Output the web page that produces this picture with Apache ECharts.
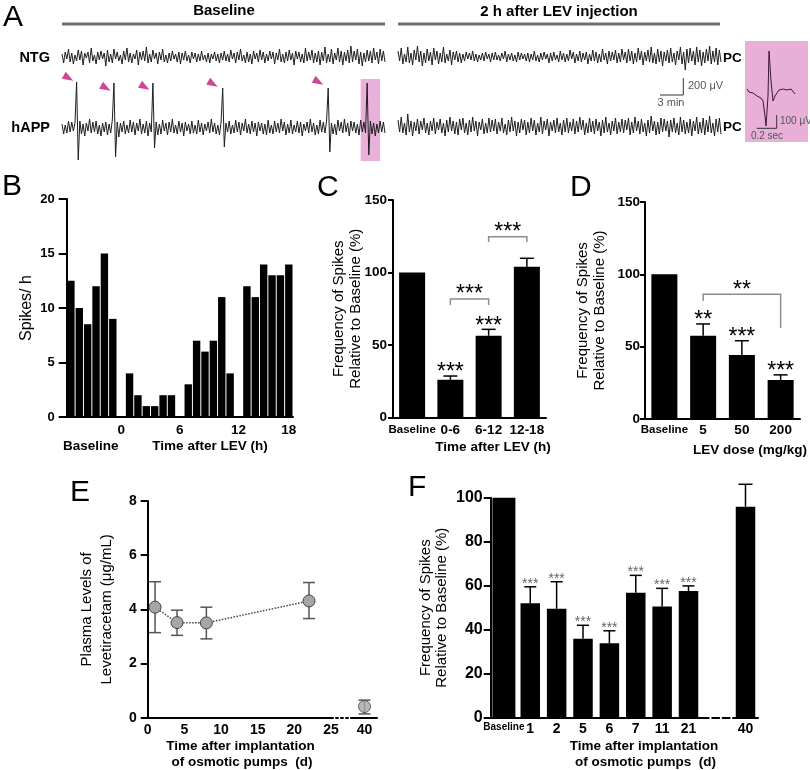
<!DOCTYPE html>
<html><head><meta charset="utf-8">
<script src="https://cdn.jsdelivr.net/npm/echarts@6/dist/echarts.min.js"></script>
<style>html,body{margin:0;padding:0;background:#fff}#c{width:810px;height:770px}</style>
</head><body><div id="c"></div>
<script>
// ---------- Panel A : EEG traces (amplitudes) ----------
const ntgBaselineTrace = [
 3,-6,5,-2,8,-5,4,-7,2,-4,7,-3,6,-8,4,-1,5,-6,9,-4,
 2,-7,5,-3,6,-2,4,-9,7,-5,3,-6,8,-2,5,-4,2,-7,6,-3,
 9,-5,4,-6,3,-2,7,-8,5,-3,6,-4,10,-6,3,-5,7,-2,4,-7,
 5,-3,8,-5,2,-6,4,-4,6,-2,3,-5,5,-7,4,-3,6,-4,2,-6,
 5,-2,4,-5,3,-4,6,-3,2,-5,4,-6,3,-2,5,-4,3,-6,4,-3,
 6,-4,3,-5,7,-2,4,-6,5,-3,8,-4,2,-6,5,-5,3,-7,6,-2,
 4,-5,7,-3,5,-6,3,-4,6,-2,5,-7,4,-3,8,-5,3,-6,5,-4,
 7,-3,4,-8,6,-2,5,-5,3,-6,9,-4,5,-3,7,-6,4,-5,6,-8,
 5,-4,10,-6,3,-5,8,-7,4,-3,9,-5,6,-8,5,-4,7,-6,11,-5,
 6,-3,8,-7,5,-9,4,-5,7,-4,6,-6,9,-3,5,-7,8,-4,6,-5];
const ntgPostTrace = [
 6,-4,9,-7,3,-5,10,-6,4,-8,7,-3,11,-5,6,-9,4,-6,8,-4,
 5,-8,9,-3,6,-7,4,-5,10,-6,3,-4,7,-8,5,-3,6,-5,4,-6,
 3,-4,5,-2,4,-3,6,-4,3,-5,2,-3,4,-4,5,-2,3,-5,4,-3,
 5,-3,2,-4,4,-2,6,-5,3,-3,4,-4,2,-5,5,-3,4,-2,3,-4,
 4,-5,3,-3,6,-4,2,-5,4,-3,5,-2,3,-6,4,-4,5,-3,2,-5,
 6,-3,4,-5,3,-4,7,-2,5,-6,3,-4,6,-5,4,-3,5,-7,3,-4,
 7,-4,5,-6,3,-5,8,-3,4,-7,6,-4,5,-3,7,-6,4,-5,8,-3,
 5,-6,8,-4,6,-7,4,-5,9,-3,6,-8,5,-4,7,-5,10,-6,4,-7,
 8,-5,6,-9,5,-4,7,-6,9,-5,4,-8,6,-3,10,-7,5,-13,8,-6,
 9,-4,6,-8,10,-5,7,-9,5,-6,8,-4,11,-7,6,-5,9,-8,7,-5];
const happBaselineTrace = [
 4,-6,3,-5,7,-4,6,-3,5,46,-32,7,-6,4,-8,5,-3,9,-5,6,
 -4,7,-6,3,-8,5,-4,6,-7,4,-5,8,45,-29,6,-9,5,-4,7,-6,
 3,-5,8,-4,6,-7,5,-3,9,-6,4,-5,7,-8,5,-4,45,-20,6,-7,
 4,-6,8,-3,5,-7,6,-4,9,-5,3,-6,7,-4,5,-8,6,-3,4,-6,
 7,-5,3,-6,8,-4,5,-7,4,-3,6,-5,9,-4,5,-6,3,-7,6,40,
 -19,5,-4,7,-6,3,-5,8,-4,6,-7,5,-3,9,-5,4,-6,7,-4,5,
 -8,6,-3,5,-6,4,-7,8,-5,3,-6,7,-4,5,-5,9,-3,6,-7,4,
 -5,8,-6,3,-4,7,-5,6,-8,4,-3,6,-5,9,-4,5,-7,3,-6,8,
 -4,6,-5,7,40,-24,5,-6,4,-7,8,-3,6,-5,9,-4,5,-8,7,-3,
 6,-5,4,-7,8,-4,6,-5,45,-27,7,-6,5,-8,4,-5,7,-4,6,-5];
const happPostTrace = [
 7,-5,10,-6,4,-8,13,-5,6,-9,5,-4,8,-7,6,-3,9,-6,4,-8,
 6,-4,9,-7,5,-3,8,-6,4,-9,7,-5,10,-4,6,-7,5,-8,8,-3,
 9,-6,4,-8,7,-5,10,-4,6,-9,5,-3,8,-7,4,-6,9,-5,7,-4,
 8,-7,5,-4,9,-6,3,-8,7,-5,10,-4,6,-9,5,-6,8,-3,7,-8,
 5,-6,9,-4,7,-8,4,-5,10,-7,6,-3,8,-9,5,-4,7,-6,9,-5,
 4,-8,7,-5,9,-6,5,-4,8,-7,6,-5,10,-3,7,-8,4,-6,9,-5,
 6,-7,8,-4,5,-9,7,-6,10,-5,4,-8,6,-4,9,-7,5,-5,8,-6,
 7,-3,9,-8,5,-6,10,-4,6,-7,8,-5,4,-9,7,-6,11,-4,6,-8,
 5,-7,9,-5,8,-4,6,-10,7,-5,9,-6,4,-8,10,-5,7,-7,5,-6,
 8,-9,6,-4,10,-7,5,-6,9,-8,7,-5,11,-6,4,-9,8,-5,9,-7];
const spikeArrowIndex = [4, 27, 51, 93, 158];
const spikeArrowLevel = [50, 40, 41, 44, 46];
const highlightedSpikeIndex = [184, 196];
const highlightedSpikeLevel = [-33, 49];
const insetTimeMs = [0,20,40,60,80,100,120,140,160,180,190,210,220,240,260,280,300,320,340,360,380,400,420,440,460,480];
const insetMicroVolt = [15,-7.5,7.5,-15,0,-37.5,-22.5,-52.5,-75,-187.5,-262.5,-37.5,300,75,-75,-37.5,-15,7.5,-7.5,15,0,7.5,-7.5,15,0,-22.5];

// ---------- Panel B ----------
const bBaseline = [12.5, 10, 8.5, 12, 15, 9];
const bHours0to6 = [4, 2, 1, 1, 2, 2];
const bHours6to12 = [3, 7, 6, 7, 11, 4];
const bHours12to18 = [12, 11, 14, 13, 13, 14];
const bHourTicks = ['0', '6', '12', '18'];

// ---------- Panel C ----------
const cCategories = ['Baseline', '0-6', '6-12', '12-18'];
const cMeans = [100, 26, 56.4, 104];
const cSem = [0, 2.6, 4.4, 5.8];
const cStars = ['', '***', '***', ''];
const cBracketFrom = [1, 2];
const cBracketTo = [2, 3];
const cBracketLevel = [81.7, 124.7];
const cBracketLegLeft = [77.6, 121];
const cBracketLegRight = [77.6, 121];
const cBracketStars = ['***', '***'];

// ---------- Panel D ----------
const dCategories = ['Baseline', '5', '50', '200'];
const dMeans = [100, 57.6, 44.2, 27];
const dSem = [0, 8.1, 9.9, 3.5];
const dStars = ['', '**', '***', '***'];
const dBracketFrom = [1];
const dBracketTo = [3];
const dBracketLevel = [86.2];
const dBracketLegLeft = [81.5];
const dBracketLegRight = [62.9];
const dBracketStars = ['**'];

// ---------- Panel E ----------
const eDays = [1, 4, 8, 22];
const eLevel = [4.08, 3.51, 3.5, 4.31];
const eLow = [3.14, 3.04, 2.91, 3.66];
const eHigh = [5.02, 3.97, 4.08, 4.99];
const eLateDays = [40];
const eLateLevel = [0.41];
const eLateLow = [0.14];
const eLateHigh = [0.65];

// ---------- Panel F ----------
const fCategories = ['Baseline', '1', '2', '5', '6', '7', '11', '21'];
const fMeans = [100, 52, 49.5, 35.9, 33.8, 56.8, 50.5, 57.6];
const fSem = [0, 7.5, 12.3, 6.1, 5.7, 7.9, 8.3, 2.3];
const fStars = ['', '***', '***', '***', '***', '***', '***', '***'];
const fLateCategories = ['40'];
const fLateMeans = [95.9];
const fLateSem = [10.2];
const fLateStars = [''];

// ---------------------------------------------------------------------------
const FONT = '"Liberation Sans", Arial, Helvetica, sans-serif';
const chart = echarts.init(document.getElementById('c'), null, {width: 810, height: 770});

const bSegments = [bBaseline, bHours0to6, bHours6to12, bHours12to18];
const bSlotValues = [], bSlotTicks = [];
bSegments.forEach((seg, k) => {
  if (k > 0) { bSlotValues.push('-'); bSlotTicks.push(bHourTicks[k - 1]); }
  seg.forEach(v => { bSlotValues.push(v); bSlotTicks.push(''); });
});
bSlotTicks[bSlotTicks.length - 1] = bHourTicks[3];
const bSlotNames = bSlotValues.map((v, i) => 's' + i);

const blackLine = {show: true, lineStyle: {color: '#000', width: 2}};
const noSplit = {show: false};

function traceAxisX(grid, arr) { return {gridIndex: grid, type: 'value', min: 0, max: arr.length - 1, show: false, splitLine: noSplit}; }
function hiddenY(grid, min, max) { return {gridIndex: grid, type: 'value', min: min, max: max, show: false, splitLine: noSplit}; }
function valueY(grid, max, interval, opts) {
  return Object.assign({
    gridIndex: grid, type: 'value', min: 0, max: max, interval: interval,
    axisLine: blackLine, splitLine: noSplit,
    axisTick: {show: true, length: opts.tick, lineStyle: {color: '#000', width: 2}},
    axisLabel: {margin: opts.margin, fontSize: opts.size, fontWeight: 'bold', color: '#000', fontFamily: FONT},
    nameLocation: 'middle', nameGap: opts.nameGap, nameMoveOverlap: false,
    nameTextStyle: {fontSize: opts.nameSize, lineHeight: opts.lineHeight, color: '#000', fontFamily: FONT}
  }, opts.extra || {});
}
function catX(grid, cats, margin, smallSize, bigSize) {
  return {
    gridIndex: grid, type: 'category', data: cats, axisLine: blackLine, axisTick: {show: false},
    axisLabel: {interval: 0, margin: margin, fontFamily: FONT,
      formatter: (v, i) => (i === 0 && cats.length > 1 ? '{s|' + v + '}' : '{b|' + v + '}'),
      rich: {s: {fontSize: smallSize, fontWeight: 'bold', color: '#000', fontFamily: FONT},
             b: {fontSize: bigSize, fontWeight: 'bold', color: '#000', fontFamily: FONT}}}
  };
}

function errorBars(xi, yi, xs, means, tops, stars, st) {
  return {
    type: 'custom', xAxisIndex: xi, yAxisIndex: yi, z: st.z || 4, silent: true, clip: false,
    data: xs.map((x, i) => [x, means[i], tops[i]]),
    renderItem(params, api) {
      const i = params.dataIndex;
      const lo = api.coord([api.value(0), api.value(1)]);
      const hi = api.coord([api.value(0), api.value(2)]);
      const ch = [];
      if (api.value(2) > api.value(1)) {
        ch.push({type: 'line', shape: {x1: lo[0], y1: lo[1], x2: hi[0], y2: hi[1]}, style: {stroke: st.color, lineWidth: st.width}});
        ch.push({type: 'line', shape: {x1: hi[0] - st.cap, y1: hi[1], x2: hi[0] + st.cap, y2: hi[1]}, style: {stroke: st.color, lineWidth: st.width}});
        if (st.bottomCap) ch.push({type: 'line', shape: {x1: lo[0] - st.cap, y1: lo[1], x2: lo[0] + st.cap, y2: lo[1]}, style: {stroke: st.color, lineWidth: st.width}});
      }
      if (stars && stars[i]) {
        ch.push({type: 'text', x: hi[0], y: hi[1] - st.starGap,
          style: {text: stars[i], fill: st.starColor, font: st.starFont, align: 'center', verticalAlign: 'middle', textAlign: 'center', textVerticalAlign: 'middle'}});
      }
      return {type: 'group', children: ch};
    }
  };
}
function brackets(xi, yi, from, to, level, legL, legR, stars, starFont) {
  return {
    type: 'custom', xAxisIndex: xi, yAxisIndex: yi, z: 4, silent: true, clip: false,
    data: from.map((f, i) => [f, level[i], to[i], legL[i], legR[i]]),
    renderItem(params, api) {
      const i = params.dataIndex;
      const pl = api.coord([api.value(0), api.value(1)]);
      const pr = api.coord([api.value(2), api.value(1)]);
      const ll = api.coord([api.value(0), api.value(3)]);
      const lr = api.coord([api.value(2), api.value(4)]);
      return {type: 'group', children: [
        {type: 'polyline', shape: {points: [ll, pl, pr, lr]}, style: {stroke: '#8c8c8c', lineWidth: 1.5, fill: null}},
        {type: 'text', x: (pl[0] + pr[0]) / 2, y: pl[1] - 4,
          style: {text: stars[i], fill: '#000', font: starFont, align: 'center', verticalAlign: 'middle', textAlign: 'center', textVerticalAlign: 'middle'}}
      ]};
    }
  };
}
const pairs = arr => arr.map((v, i) => [i, v]);
const traceStyle = {color: '#1e1e1e', width: 1};

function T(text, x, y, size, weight, align, color) {
  return {type: 'text', x: x, y: y, z: 100,
    style: {text: text, font: (weight || 'normal') + ' ' + size + 'px ' + FONT, fill: color || '#000',
      align: align || 'center', verticalAlign: 'middle', textAlign: align || 'center', textVerticalAlign: 'middle'}};
}
function L(x1, y1, x2, y2, color, w) {
  return {type: 'line', z: 100, shape: {x1: x1, y1: y1, x2: x2, y2: y2}, style: {stroke: color, lineWidth: w}};
}

const option = {
  animation: false,
  backgroundColor: '#fff',
  textStyle: {fontFamily: FONT, color: '#000'},
  grid: [
    {left: 62, top: 41, width: 323, height: 32},
    {left: 398, top: 41, width: 323, height: 32},
    {left: 62, top: 76, width: 323, height: 88},
    {left: 398, top: 111, width: 323, height: 32},
    {left: 745, top: 41, width: 63, height: 101, show: true, backgroundColor: '#e8b0d9', borderWidth: 0},
    {left: 66.7, top: 199, width: 226.3, height: 218},
    {left: 393, top: 200, width: 153, height: 217.5},
    {left: 645, top: 202, width: 155, height: 217},
    {left: 147.7, top: 501, width: 183.3, height: 216.7},
    {left: 331, top: 501, width: 21, height: 216.7},
    {left: 352, top: 501, width: 25, height: 216.7},
    {left: 490.7, top: 497.7, width: 211, height: 220},
    {left: 701.7, top: 497.7, width: 31.3, height: 220},
    {left: 733, top: 497.7, width: 25, height: 220}
  ],
  xAxis: [
    traceAxisX(0, ntgBaselineTrace), traceAxisX(1, ntgPostTrace), traceAxisX(2, happBaselineTrace), traceAxisX(3, happPostTrace),
    {gridIndex: 4, type: 'value', min: -20, max: 610, show: false, splitLine: noSplit},
    {gridIndex: 5, type: 'category', data: bSlotNames, axisLine: blackLine, axisTick: {show: false},
      axisLabel: {interval: 0, margin: 6.5, fontSize: 13.5, fontWeight: 'bold', color: '#000', fontFamily: FONT, formatter: (v, i) => bSlotTicks[i]}},
    catX(6, cCategories, 6, 11.5, 13.5),
    catX(7, dCategories, 4.5, 11.5, 13.5),
    {gridIndex: 8, type: 'value', min: 0, max: 25, interval: 5, axisLine: blackLine, axisTick: {show: false}, splitLine: noSplit,
      axisLabel: {margin: 5, fontSize: 14, fontWeight: 'bold', color: '#000', fontFamily: FONT}},
    {gridIndex: 9, type: 'value', min: 0, max: 1, axisLine: {show: true, lineStyle: {color: '#000', width: 2, type: [2, 3]}},
      axisTick: {show: false}, axisLabel: {show: false}, splitLine: noSplit},
    {gridIndex: 10, type: 'value', min: 38, max: 42, interval: 2, axisLine: blackLine, axisTick: {show: false}, splitLine: noSplit,
      axisLabel: {showMinLabel: false, showMaxLabel: false, margin: 5, fontSize: 14, fontWeight: 'bold', color: '#000', fontFamily: FONT}},
    catX(11, fCategories, 4.5, 10, 14),
    {gridIndex: 11, type: 'category', data: fCategories, show: false},
    {gridIndex: 12, type: 'value', min: 0, max: 1, axisLine: {show: true, lineStyle: {color: '#000', width: 2, type: [7, 3.5]}},
      axisTick: {show: false}, axisLabel: {show: false}, splitLine: noSplit},
    catX(13, fLateCategories, 4.5, 14, 14)
  ],
  yAxis: [
    hiddenY(0, -16, 16), hiddenY(1, -16, 16), hiddenY(2, -36, 52), hiddenY(3, -16, 16),
    hiddenY(4, -382.5, 375),
    valueY(5, 20, 5, {tick: 8, margin: 12, size: 13, nameGap: 31, nameSize: 16, lineHeight: 18, extra: {name: 'Spikes/ h'}}),
    valueY(6, 150, 50, {tick: 5, margin: 6, size: 13.5, nameGap: 28, nameSize: 15, lineHeight: 17.5, extra: {name: 'Frequency of Spikes\nRelative to Baseline (%)'}}),
    valueY(7, 150, 50, {tick: 5, margin: 5, size: 13.5, nameGap: 36, nameSize: 15, lineHeight: 17.5, extra: {name: 'Frequency of Spikes\nRelative to Baseline (%)'}}),
    valueY(8, 8, 2, {tick: 7, margin: 11, size: 14, nameGap: 31, nameSize: 15, lineHeight: 20, extra: {name: 'Plasma Levels of\nLevetiracetam (μg/mL)'}}),
    hiddenY(9, 0, 8), hiddenY(10, 0, 8),
    valueY(11, 100, 20, {tick: 7, margin: 8, size: 16, nameGap: 41, nameSize: 15, lineHeight: 16, extra: {name: 'Frequency of Spikes\nRelative to Baseline (%)'}}),
    hiddenY(12, 0, 100), hiddenY(13, 0, 100)
  ],
  series: [
    {type: 'line', xAxisIndex: 0, yAxisIndex: 0, data: pairs(ntgBaselineTrace), symbol: 'none', lineStyle: traceStyle, silent: true},
    {type: 'line', xAxisIndex: 1, yAxisIndex: 1, data: pairs(ntgPostTrace), symbol: 'none', lineStyle: traceStyle, silent: true},
    {type: 'line', xAxisIndex: 2, yAxisIndex: 2, data: pairs(happBaselineTrace), symbol: 'none', lineStyle: traceStyle, silent: true,
      markArea: {silent: true, itemStyle: {color: 'rgba(226,150,206,0.75)'},
        data: [[{xAxis: highlightedSpikeIndex[0], yAxis: highlightedSpikeLevel[0]}, {xAxis: highlightedSpikeIndex[1], yAxis: highlightedSpikeLevel[1]}]]}},
    {type: 'line', xAxisIndex: 3, yAxisIndex: 3, data: pairs(happPostTrace), symbol: 'none', lineStyle: traceStyle, silent: true},
    {type: 'scatter', xAxisIndex: 2, yAxisIndex: 2, data: spikeArrowIndex.map((x, i) => [x, spikeArrowLevel[i]]),
      symbol: 'path://M0,0L12,5L0,10Z', symbolSize: [11, 8], symbolRotate: -30, itemStyle: {color: '#c2187d'}, silent: true},
    {type: 'line', xAxisIndex: 4, yAxisIndex: 4, data: insetTimeMs.map((t, i) => [t, insetMicroVolt[i]]), symbol: 'none',
      lineStyle: {color: '#3b1638', width: 1}, silent: true},
    {type: 'bar', xAxisIndex: 5, yAxisIndex: 5, data: bSlotValues, barWidth: 7.4, itemStyle: {color: '#000'}, silent: true},
    {type: 'bar', xAxisIndex: 6, yAxisIndex: 6, data: cMeans, barWidth: 26, itemStyle: {color: '#000'}, silent: true},
    errorBars(6, 6, cCategories.map((c, i) => i), cMeans, cMeans.map((m, i) => m + cSem[i]), cStars,
      {color: '#000', width: 1.5, cap: 7, starGap: 3, starColor: '#000', starFont: '23px ' + FONT}),
    brackets(6, 6, cBracketFrom, cBracketTo, cBracketLevel, cBracketLegLeft, cBracketLegRight, cBracketStars, '23px ' + FONT),
    {type: 'bar', xAxisIndex: 7, yAxisIndex: 7, data: dMeans, barWidth: 26, itemStyle: {color: '#000'}, silent: true},
    errorBars(7, 7, dCategories.map((c, i) => i), dMeans, dMeans.map((m, i) => m + dSem[i]), dStars,
      {color: '#000', width: 1.5, cap: 7, starGap: 3, starColor: '#000', starFont: '23px ' + FONT}),
    brackets(7, 7, dBracketFrom, dBracketTo, dBracketLevel, dBracketLegLeft, dBracketLegRight, dBracketStars, '23px ' + FONT),
    errorBars(8, 8, eDays, eLow, eHigh, null, {color: '#555', width: 1.5, cap: 6, bottomCap: true, z: 1}),
    {type: 'line', xAxisIndex: 8, yAxisIndex: 8, z: 3, data: eDays.map((d, i) => [d, eLevel[i]]), symbol: 'circle', symbolSize: 12,
      lineStyle: {color: '#444', width: 1.5, type: 'dotted'}, itemStyle: {color: '#a6a6a6', borderColor: '#444', borderWidth: 1}, silent: true},
    errorBars(10, 10, eLateDays, eLateLow, eLateHigh, null, {color: '#555', width: 1.5, cap: 6, bottomCap: true, z: 1}),
    {type: 'scatter', xAxisIndex: 10, yAxisIndex: 10, z: 3, data: eLateDays.map((d, i) => [d, eLateLevel[i]]), symbol: 'circle', symbolSize: 12,
      itemStyle: {color: '#a6a6a6', borderColor: '#444', borderWidth: 1}, silent: true},
    {type: 'line', xAxisIndex: 9, yAxisIndex: 9, data: [], silent: true},
    {type: 'bar', xAxisIndex: 11, yAxisIndex: 11, data: fMeans.map((v, i) => (i === 0 ? v : '-')), barWidth: 23, itemStyle: {color: '#000'}, silent: true},
    {type: 'bar', xAxisIndex: 12, yAxisIndex: 11, data: fMeans.map((v, i) => (i === 0 ? '-' : v)), barWidth: 19.5, itemStyle: {color: '#000'}, silent: true},
    errorBars(12, 11, fCategories.map((c, i) => i), fMeans, fMeans.map((m, i) => m + fSem[i]), fStars,
      {color: '#000', width: 1.5, cap: 6, starGap: 3, starColor: '#666', starFont: '14px ' + FONT}),
    {type: 'line', xAxisIndex: 13, yAxisIndex: 12, data: [], silent: true},
    {type: 'bar', xAxisIndex: 14, yAxisIndex: 13, data: fLateMeans, barWidth: 19.5, itemStyle: {color: '#000'}, silent: true},
    errorBars(14, 13, fLateCategories.map((c, i) => i), fLateMeans, fLateMeans.map((m, i) => m + fLateSem[i]), fLateStars,
      {color: '#000', width: 1.5, cap: 7, starGap: 3, starColor: '#666', starFont: '14px ' + FONT})
  ],
  graphic: {elements: [
    T('A', 3, 18, 30, 'normal', 'left'),
    T('B', 2, 187, 30, 'normal', 'left'),
    T('C', 317, 188, 30, 'normal', 'left'),
    T('D', 570, 188, 30, 'normal', 'left'),
    T('E', 70, 493, 30, 'normal', 'left'),
    T('F', 408, 488, 30, 'normal', 'left'),
    T('Baseline', 224, 11, 15, 'bold'),
    T('2 h after LEV injection', 559, 12, 15, 'bold'),
    L(62, 24, 385, 24, '#707070', 3),
    L(398, 24, 720, 24, '#707070', 3),
    T('NTG', 50, 58, 14.5, 'bold', 'right'),
    T('hAPP', 50, 128, 14.5, 'bold', 'right'),
    T('PC', 723, 58, 13.5, 'bold', 'left'),
    T('PC', 723, 127, 13.5, 'bold', 'left'),
    L(683.3, 78, 683.3, 95, '#333', 1),
    L(660, 95, 683.3, 95, '#333', 1),
    T('200 μV', 688, 86, 11, 'normal', 'left', '#555'),
    T('3 min', 671, 103, 11, 'normal', 'center', '#555'),
    L(776.7, 115, 776.7, 128.3, '#333', 1),
    L(756.7, 128.3, 776.7, 128.3, '#333', 1),
    T('100 μV', 780, 121, 10, 'normal', 'left', '#555'),
    T('0.2 sec', 767, 136, 10, 'normal', 'center', '#555'),
    T('Baseline', 90.7, 446, 13.5, 'bold'),
    T('Time after LEV (h)', 210, 446, 13.5, 'bold'),
    T('Time after LEV (h)', 493, 447, 13.5, 'bold'),
    T('LEV dose (mg/kg)', 750, 450, 13.5, 'bold'),
    T('Time after implantation', 240.5, 746, 13.5, 'bold'),
    T('of osmotic pumps  (d)', 242, 762, 13.5, 'bold'),
    T('Time after implantation', 644, 746, 13.5, 'bold'),
    T('of osmotic pumps  (d)', 645.5, 762, 13.5, 'bold')
  ]}
};
chart.setOption(option);
</script></body></html>
